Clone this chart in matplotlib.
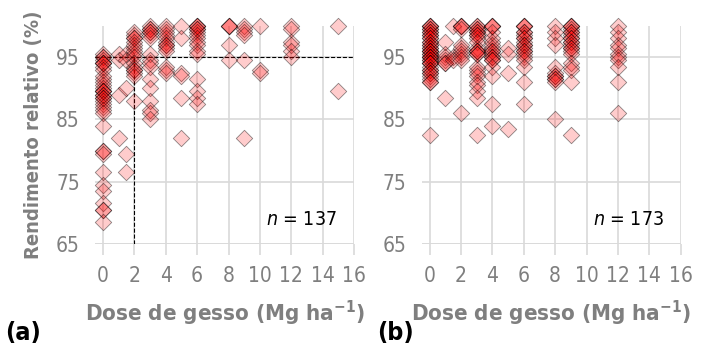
import matplotlib
matplotlib.use("Agg")
import matplotlib.pyplot as plt

plt.rcParams['font.family'] = ['DejaVu Sans']
plt.rcParams['font.stretch'] = 'condensed'

# panel (a): gypsum dose (Mg/ha) and relative yield (%)
dose_a = ([0] * 37 + [1] * 4 + [1.5] * 5 + [2] * 17 + [3] * 17 + [4] * 13
          + [5] * 6 + [6] * 16 + [8] * 5 + [9] * 6 + [10] * 3 + [12] * 6 + [15] * 2)
rel_a = [
    # x = 0
    95.5, 95, 95, 94.5, 94, 94, 94, 93.5, 93, 92, 91.5, 91, 90.5, 90, 89.5, 89.5, 89.5,
    89, 89, 88.5, 88.5, 88, 87.5, 87, 86.5, 86, 84, 80, 80, 79.5, 76.5, 74.5, 73.5,
    71.5, 70.5, 70.5, 68.5,
    # x = 1
    95.5, 94.5, 89, 82,
    # x = 1.5
    95.5, 94.5, 90, 79.5, 76.5,
    # x = 2
    99, 98.5, 98, 98, 97.5, 97, 96.5, 96, 95.5, 95, 94, 93.5, 93, 93, 92.5, 92, 88,
    # x = 3
    100, 99.5, 99.5, 99, 99, 98.5, 98, 95.5, 94.5, 94, 93.5, 91.5, 90, 88, 86.5, 86, 85,
    # x = 4
    100, 99.5, 99, 98.5, 98, 97.5, 97, 97, 96.5, 96, 93.5, 93, 92.5,
    # x = 5
    100, 98, 92.5, 92, 88.5, 82,
    # x = 6
    100, 100, 100, 99.5, 99.5, 99, 98.5, 98, 97.5, 97, 96, 95.5, 91.5, 89.5, 88.5, 87.5,
    # x = 8
    100, 100, 100, 97, 94.5,
    # x = 9
    100, 99.5, 99, 98.5, 94.5, 82,
    # x = 10
    100, 93, 92.5,
    # x = 12
    100, 99.5, 97.5, 97, 96, 95,
    # x = 15
    100, 89.5,
]

# panel (b)
dose_b = ([0] * 40 + [1] * 7 + [1.5] * 3 + [2] * 11 + [3] * 25 + [4] * 19
          + [5] * 4 + [6] * 20 + [8] * 12 + [9] * 21 + [12] * 11)
rel_b = [
    # x = 0
    100, 100, 100, 99.5, 99.5, 99, 99, 98.5, 98.5, 98, 98, 97.5, 97.5, 97, 97, 96.5,
    96.5, 96, 96, 96, 95.5, 95.5, 95, 95, 95, 94.5, 94.5, 94, 94, 94, 93.5, 93, 93,
    92.5, 92.5, 92, 91.5, 91, 91, 82.5,
    # x = 1
    97.5, 95.5, 95, 94.5, 94, 94, 88.5,
    # x = 1.5
    100, 95, 94.5,
    # x = 2
    100, 100, 100, 99.5, 97, 96.5, 96, 95.5, 95, 94.5, 86,
    # x = 3
    100, 100, 99.5, 99.5, 99, 99, 98.5, 98.5, 98, 97.5, 96.5, 96, 96, 96, 95.5, 95.5,
    93.5, 93, 92.5, 92, 91, 90.5, 89.5, 88.5, 82.5,
    # x = 4
    100, 100, 100, 99, 98, 97.5, 97, 96.5, 96, 96, 95.5, 95, 95, 94.5, 94.5, 93.5, 92,
    87.5, 84,
    # x = 5
    96.5, 95.5, 92.5, 83.5,
    # x = 6
    100, 100, 100, 99, 99, 98.5, 98, 98, 97.5, 97, 97, 96.5, 96, 96, 95.5, 95, 94.5,
    93.5, 91, 87.5,
    # x = 8
    100, 99, 98, 97, 93.5, 92.5, 92, 92, 91.5, 91.5, 91, 85,
    # x = 9
    100, 100, 100, 99.5, 99, 99, 98.5, 98, 98, 97.5, 97.5, 97, 96.5, 96.5, 96, 95.5,
    94, 93.5, 93, 91, 82.5,
    # x = 12
    100, 99, 98, 97, 96.5, 95.5, 95, 94.5, 93.5, 91, 86,
]

x_ticks = [0, 2, 4, 6, 8, 10, 12, 14, 16]
y_ticks = [65, 75, 85, 95]
n_labels = ['137', '173']
panel_tags = ['(a)', '(b)']

gray = '#7f7f7f'
grid_col = '#d9d9d9'

fig = plt.figure(figsize=(7.04, 3.52), dpi=100)
ax_a = fig.add_axes([0.135, 0.307, 0.368, 0.619])
ax_b = fig.add_axes([0.599, 0.307, 0.368, 0.619])

for ax, xs, ys, n in [(ax_a, dose_a, rel_a, n_labels[0]),
                      (ax_b, dose_b, rel_b, n_labels[1])]:
    ax.scatter(xs, ys, marker='D', s=70, facecolor=(1, 0, 0, 0.2),
               edgecolor=(0, 0, 0, 0.45), linewidth=0.6, zorder=3, clip_on=False)
    ax.set_xlim(-0.5, 16)
    ax.set_ylim(65, 100)
    ax.set_xticks(x_ticks)
    ax.set_yticks(y_ticks)
    ax.grid(True, color=grid_col, linewidth=1.2, zorder=0)
    for s in ax.spines.values():
        s.set_visible(False)
    ax.axhline(65, color=grid_col, linewidth=1.2, zorder=0)
    ax.tick_params(axis='x', colors=grid_col, length=8, width=1.2, labelcolor=gray,
                   labelsize=15, pad=8)
    ax.tick_params(axis='y', length=0, labelcolor=gray, labelsize=15, pad=11)
    ax.set_xlabel('Dose de gesso (Mg ha$^{\\mathregular{-1}}$)', color=gray,
                  fontsize=16, fontweight='bold', labelpad=9)
    ax.text(0.935, 0.11, '$\\it{n}$ = ' + n, transform=ax.transAxes, ha='right',
            va='center', fontsize=14)

ax_a.axhline(95, color='black', linestyle='--', linewidth=0.8, zorder=2)
ax_a.plot([2, 2], [65, 95], color='black', linestyle='--', linewidth=0.8, zorder=2)

ax_a.set_ylabel('Rendimento relativo (%)', color=gray, fontsize=14.5,
                fontweight='bold', labelpad=9)

fig.text(0.007, 0.035, panel_tags[0], fontsize=18, fontweight='bold')
fig.text(0.535, 0.035, panel_tags[1], fontsize=18, fontweight='bold')

fig.savefig('out.png', dpi=100)
